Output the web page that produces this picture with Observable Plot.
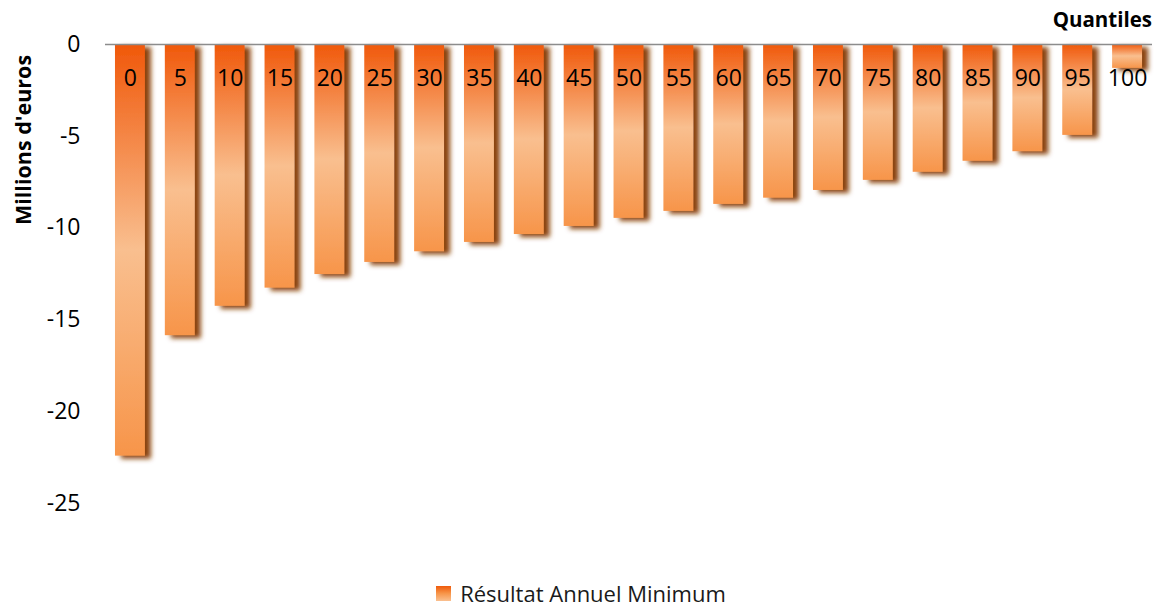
<!DOCTYPE html>
<html><head><meta charset="utf-8">
<script src="https://cdn.jsdelivr.net/npm/d3@7"></script>
<script src="https://cdn.jsdelivr.net/npm/@observablehq/plot@0.6"></script>
<style>
body{margin:0;background:#fff;font-family:"Open Sans",sans-serif;}
#wrap{position:relative;width:1162px;height:610px;overflow:hidden;}
#chart{position:absolute;left:0;top:0;}
.ytitle{position:absolute;left:22px;top:140px;transform:translate(-50%,-50%) rotate(-90deg);font-weight:bold;font-size:21.5px;white-space:nowrap;color:#000;}
.xtitle{position:absolute;right:10px;top:5px;font-weight:bold;font-size:20.5px;color:#000;}
.legend{position:absolute;left:0;width:1162px;top:581px;height:24px;line-height:24px;display:flex;justify-content:center;align-items:center;font-size:22px;color:#1a1a1a;}
.legend .sw{width:15px;height:15px;margin-right:9px;background:linear-gradient(#EF5A0B,#F7964A 50%,#FAC090);}
</style></head><body>
<div id="wrap"><div id="chart"></div></div>
<script>
const quantiles = [0,5,10,15,20,25,30,35,40,45,50,55,60,65,70,75,80,85,90,95,100];
const resultats = [-22.42,-15.86,-14.26,-13.27,-12.53,-11.87,-11.29,-10.78,-10.35,-9.91,-9.47,-9.09,-8.71,-8.37,-7.95,-7.40,-6.96,-6.36,-5.84,-4.95,-1.3];
const yTicks = [0,-5,-10,-15,-20,-25];
const seriesName = "Résultat Annuel Minimum";
const yLabel = "Millions d'euros";
const xLabel = "Quantiles";

const data = quantiles.map((q,i)=>({q:String(q), v:resultats[i]}));

const chart = Plot.plot({
  width:1162, height:575,
  marginTop:44, marginBottom:72, marginLeft:105, marginRight:10,
  style:{fontFamily:"Open Sans", fontSize:"23px", color:"#000", background:"transparent", overflow:"visible"},
  x:{domain:data.map(d=>d.q), paddingInner:0.4, paddingOuter:0.2, round:false, axis:null},
  y:{domain:[-25,0], ticks:yTicks, tickFormat:d=>String(d), label:null, tickSize:0, tickPadding:25},
  marks:[
    Plot.barY(data,{x:"q", y:"v", fill:"url(#barGrad)"}),
    Plot.ruleY([0],{stroke:"#8c8c8c", strokeWidth:1.6}),
    Plot.text(data,{x:"q", y:d=>0, dy:34, text:"q", fontSize:23, fill:"#000"})
  ]
});

const svg = d3.select(chart);
const defs = svg.insert("defs",":first-child");
const g = defs.append("linearGradient").attr("id","barGrad").attr("x1",0).attr("y1",0).attr("x2",0).attr("y2",1);
g.append("stop").attr("offset","0%").attr("stop-color","#F0580A");
g.append("stop").attr("offset","50%").attr("stop-color","#F9BF8F");
g.append("stop").attr("offset","100%").attr("stop-color","#F7954A");
const f = defs.append("filter").attr("id","shadow").attr("x","-20%").attr("y","-5%").attr("width","180%").attr("height","115%");
f.append("feDropShadow").attr("dx",6).attr("dy",3).attr("stdDeviation",2.8).attr("flood-color","#8a4210").attr("flood-opacity",1);
svg.select('g[aria-label="bar"]').attr("filter","url(#shadow)");

document.getElementById("chart").appendChild(chart);
const wrap = document.getElementById("wrap");
const yt = document.createElement("div"); yt.className="ytitle"; yt.textContent=yLabel; wrap.appendChild(yt);
const xt = document.createElement("div"); xt.className="xtitle"; xt.textContent=xLabel; wrap.appendChild(xt);
const lg = document.createElement("div"); lg.className="legend";
lg.innerHTML = '<div class="sw"></div><span></span>';
lg.querySelector("span").textContent = seriesName;
wrap.appendChild(lg);
</script>
</body></html>
